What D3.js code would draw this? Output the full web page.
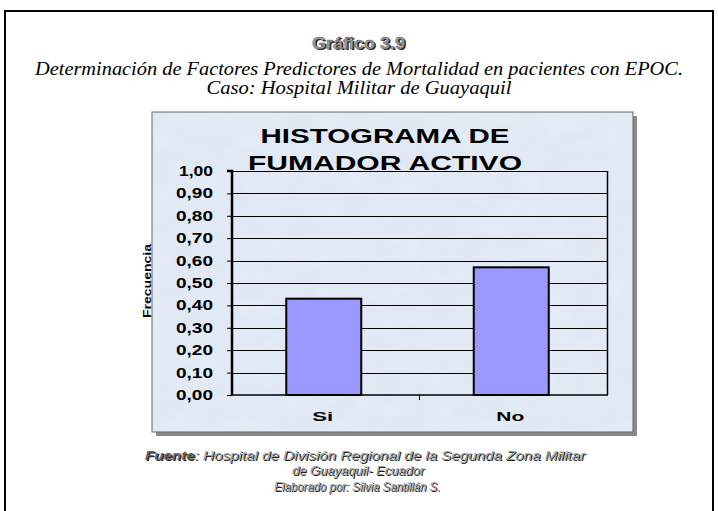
<!DOCTYPE html>
<html>
<head>
<meta charset="utf-8">
<script src="https://cdn.jsdelivr.net/npm/d3@7"></script>
<style>
    body { margin: 0; background: #fff; }
    svg { display: block; }
</style>
</head>
<body>
<script>
    var categories = ["Si", "No"];
    var frequencies = [0.43, 0.57];
    var yTicks = [0, 0.1, 0.2, 0.3, 0.4, 0.5, 0.6, 0.7, 0.8, 0.9, 1.0];
    var titleLines = ["HISTOGRAMA DE", "FUMADOR ACTIVO"];
    var headerLines = ["Determinación de Factores Predictores de Mortalidad en pacientes con EPOC.",
        "Caso: Hospital Militar de Guayaquil"];

    var width = 718,
        height = 511;

    var svg = d3.select("body")
        .append("svg")
        .attr("width", width)
        .attr("height", height);

    var defs = svg.append("defs");

    // mottled light blue panel background
    var filt = defs.append("filter").attr("id", "mottle")
        .attr("x", 0).attr("y", 0).attr("width", "100%").attr("height", "100%");
    filt.append("feTurbulence")
        .attr("type", "fractalNoise")
        .attr("baseFrequency", "0.035 0.06")
        .attr("numOctaves", 3)
        .attr("seed", 4)
        .attr("result", "noise");
    filt.append("feColorMatrix")
        .attr("in", "noise")
        .attr("type", "matrix")
        .attr("values", "0 0 0 0 0.80  0 0 0 0 0.86  0 0 0 0 0.94  0.9 0 0 0 -0.2")
        .attr("result", "tint");
    filt.append("feComposite").attr("in", "tint").attr("in2", "SourceGraphic").attr("operator", "in");

    // outer frame
    svg.append("path")
        .attr("d", "M5,511 V11 H713 V511")
        .attr("fill", "none")
        .attr("stroke", "#000")
        .attr("stroke-width", 2);

    function stretch(sel, len) {
        return sel.attr("textLength", len).attr("lengthAdjust", "spacingAndGlyphs");
    }

    // heading with shadow
    var gh = svg.append("g")
        .attr("font-family", "Arial, 'Liberation Sans', sans-serif")
        .attr("font-size", 16)
        .attr("font-weight", "bold")
        .attr("text-anchor", "middle");
    stretch(gh.append("text").attr("x", 360).attr("y", 50).attr("fill", "#222").text("Gráfico  3.9"), 93);
    stretch(gh.append("text").attr("x", 358.5).attr("y", 48.5).attr("fill", "#9a9a9a")
        .attr("stroke", "#555").attr("stroke-width", 0.4).text("Gráfico  3.9"), 93);

    var hdrLens = [648, 305];
    svg.selectAll(".hdr")
        .data(headerLines)
        .enter().append("text")
        .attr("class", "hdr")
        .attr("x", 359)
        .attr("y", function (d, i) { return 75 + i * 19; })
        .attr("text-anchor", "middle")
        .attr("font-family", "'Liberation Serif', 'Times New Roman', serif")
        .attr("font-style", "italic")
        .attr("font-size", 18)
        .attr("textLength", function (d, i) { return hdrLens[i]; })
        .attr("lengthAdjust", "spacingAndGlyphs")
        .text(function (d) { return d; });

    // chart panel
    var panel = {x: 152, y: 112, w: 481, h: 320};
    svg.append("rect")
        .attr("x", panel.x + 4).attr("y", panel.y + 4)
        .attr("width", panel.w).attr("height", panel.h)
        .attr("fill", "#8a8a8a");
    svg.append("rect")
        .attr("x", panel.x).attr("y", panel.y)
        .attr("width", panel.w).attr("height", panel.h)
        .attr("fill", "#dfe8f3")
        .attr("stroke", "#666")
        .attr("stroke-width", 1);
    svg.append("rect")
        .attr("x", panel.x + 1).attr("y", panel.y + 1)
        .attr("width", panel.w - 2).attr("height", panel.h - 2)
        .attr("fill", "#fff")
        .attr("filter", "url(#mottle)");

    var plot = {left: 232, right: 607, top: 171, bottom: 395};

    var x = d3.scaleBand()
        .domain(categories)
        .range([plot.left, plot.right]);

    var y = d3.scaleLinear()
        .domain([0, 1])
        .range([plot.bottom, plot.top]);

    // gridlines
    svg.append("g")
        .selectAll("line")
        .data(yTicks.slice(1))
        .enter().append("line")
        .attr("x1", plot.left)
        .attr("x2", plot.right)
        .attr("y1", function (d) { return Math.round(y(d)) + 0.5; })
        .attr("y2", function (d) { return Math.round(y(d)) + 0.5; })
        .attr("stroke", "#000")
        .attr("stroke-width", 1);

    // right border of plot
    svg.append("line")
        .attr("x1", plot.right + 0.5).attr("x2", plot.right + 0.5)
        .attr("y1", plot.top).attr("y2", plot.bottom)
        .attr("stroke", "#000").attr("stroke-width", 1.5);

    // bars
    var barW = x.bandwidth() * 0.4;
    svg.append("g")
        .selectAll("rect")
        .data(frequencies)
        .enter().append("rect")
        .attr("x", function (d, i) { return x(categories[i]) + x.bandwidth() / 2 - barW / 2 - 2; })
        .attr("y", function (d) { return y(d); })
        .attr("width", barW)
        .attr("height", function (d) { return plot.bottom - y(d); })
        .attr("fill", "#9999ff")
        .attr("stroke", "#000")
        .attr("stroke-width", 2);

    // y axis
    var yAxis = svg.append("g")
        .attr("transform", "translate(" + plot.left + ",0)")
        .call(d3.axisLeft(y)
            .tickValues(yTicks)
            .tickSize(5)
            .tickPadding(14)
            .tickFormat(function (d) { return d3.format(".2f")(d).replace(".", ","); }));
    yAxis.select(".domain").attr("stroke-width", 2.5).attr("d", "M-5," + plot.top + "H0V" + plot.bottom);
    yAxis.selectAll(".tick line").attr("stroke-width", 1);
    yAxis.selectAll("text")
        .attr("font-family", "Arial, 'Liberation Sans', sans-serif")
        .attr("font-weight", "bold")
        .attr("font-size", 14)
        .attr("fill", "#000")
        .attr("textLength", function (d) { return d === 1 ? 34 : 37; })
        .attr("lengthAdjust", "spacingAndGlyphs");

    // x axis
    var xAxis = svg.append("g")
        .attr("transform", "translate(0," + plot.bottom + ")")
        .call(d3.axisBottom(x).tickSize(0).tickPadding(17));
    xAxis.select(".domain").attr("stroke-width", 1.5).attr("d", "M" + plot.left + ",0H" + (plot.right + 1));
    xAxis.append("line")
        .attr("x1", plot.left + x.bandwidth()).attr("x2", plot.left + x.bandwidth())
        .attr("y1", 0).attr("y2", 5)
        .attr("stroke", "#000");
    xAxis.selectAll("text")
        .attr("font-family", "Arial, 'Liberation Sans', sans-serif")
        .attr("font-weight", "bold")
        .attr("font-size", 13)
        .attr("fill", "#000")
        .attr("dx", -3)
        .attr("textLength", function (d) { return d === "Si" ? 21 : 28; })
        .attr("lengthAdjust", "spacingAndGlyphs");

    // y axis title
    svg.append("text")
        .attr("transform", "translate(151,281) rotate(-90)")
        .attr("text-anchor", "middle")
        .attr("font-family", "Arial, 'Liberation Sans', sans-serif")
        .attr("font-weight", "bold")
        .attr("font-size", 11)
        .attr("textLength", 74)
        .attr("lengthAdjust", "spacingAndGlyphs")
        .text("Frecuencia");

    // chart title
    var ttlLens = [249, 274];
    svg.selectAll(".ttl")
        .data(titleLines)
        .enter().append("text")
        .attr("class", "ttl")
        .attr("x", 385)
        .attr("y", function (d, i) { return 143 + i * 27; })
        .attr("text-anchor", "middle")
        .attr("font-family", "Arial, 'Liberation Sans', sans-serif")
        .attr("font-weight", "bold")
        .attr("font-size", 21)
        .attr("textLength", function (d, i) { return ttlLens[i]; })
        .attr("lengthAdjust", "spacingAndGlyphs")
        .text(function (d) { return d; });

    // footer
    var footG = svg.append("g")
        .attr("font-family", "Arial, 'Liberation Sans', sans-serif")
        .attr("font-style", "italic")
        .attr("font-size", 13)
        .attr("text-anchor", "middle");
    [[1.2, 1.2, "#222"], [0, 0, "#a0a0a0"]].forEach(function (s) {
        var t = footG.append("text").attr("x", 365 + s[0]).attr("y", 460 + s[1]).attr("fill", s[2]);
        stretch(t, 440);
        t.append("tspan").attr("font-weight", "bold").attr("fill", s[2] === "#222" ? "#222" : "#666").text("Fuente");
        t.append("tspan").text(": Hospital de División Regional de la Segunda Zona Militar");
        stretch(footG.append("text").attr("x", 358 + s[0]).attr("y", 475 + s[1]).attr("fill", s[2])
            .text("de Guayaquil- Ecuador"), 132);
        stretch(footG.append("text").attr("x", 357 + s[0]).attr("y", 491 + s[1]).attr("fill", s[2])
            .text("Elaborado por: Silvia Santillán S."), 166);
    });
</script>
</body>
</html>
